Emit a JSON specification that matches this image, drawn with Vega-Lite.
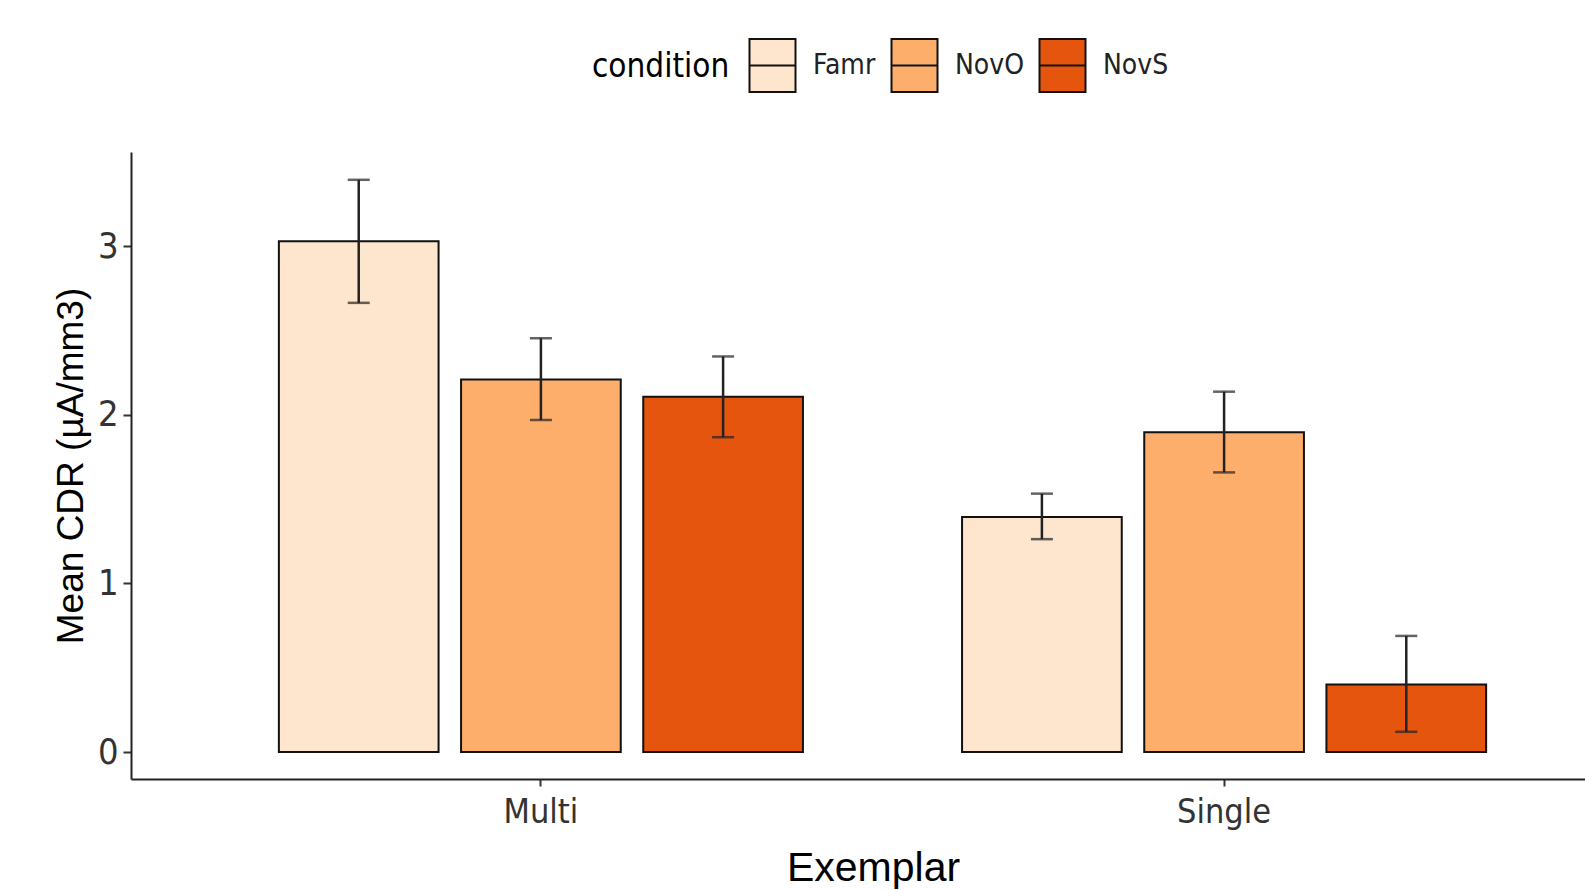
{
  "$schema": "https://vega.github.io/schema/vega-lite/v6.json",
  "autosize": {"type": "none"},
  "width": 1454,
  "height": 627,
  "padding": {"left": 131, "top": 152, "right": 0, "bottom": 111},
  "background": "white",
  "config": {"view": {"stroke": null}},
  "data": {
    "values": [
      {"Exemplar": "Multi", "condition": "Famr", "mean": 3.03, "lo": 2.665, "hi": 3.395},
      {"Exemplar": "Multi", "condition": "NovO", "mean": 2.21, "lo": 1.97, "hi": 2.455},
      {"Exemplar": "Multi", "condition": "NovS", "mean": 2.108, "lo": 1.868, "hi": 2.347},
      {"Exemplar": "Single", "condition": "Famr", "mean": 1.395, "lo": 1.263, "hi": 1.533},
      {"Exemplar": "Single", "condition": "NovO", "mean": 1.898, "lo": 1.659, "hi": 2.138},
      {"Exemplar": "Single", "condition": "NovS", "mean": 0.401, "lo": 0.12, "hi": 0.689}
    ]
  },
  "encoding": {
    "x": {
      "field": "Exemplar", "type": "nominal",
      "scale": {"range": [0, 1503], "paddingInner": 0.2, "paddingOuter": 0.2},
      "axis": {
        "labelAngle": 0, "labelFont": "DejaVu Sans Condensed, Liberation Sans", "labelFontSize": 34, "labelColor": "#333333",
        "labelPadding": 9, "tickSize": 7, "tickColor": "#333333", "tickWidth": 2,
        "domainColor": "#222222", "domainWidth": 2,
        "title": "Exemplar", "titleFont": "Liberation Sans", "titleFontSize": 41, "titleFontWeight": "normal",
        "titleColor": "#000000", "titleX": 742, "titleY": 101, "titleBaseline": "alphabetic", "titleAlign": "center"
      }
    },
    "xOffset": {"field": "condition", "type": "nominal", "scale": {"paddingInner": 0.1235, "paddingOuter": 0.0617}}
  },
  "layer": [
    {
      "mark": {"type": "bar", "stroke": "#111111", "strokeWidth": 2},
      "encoding": {
        "y": {
          "field": "mean", "type": "quantitative", "stack": null,
          "scale": {"domain": [-0.16, 3.56], "nice": false, "zero": false},
          "axis": {
            "values": [0, 1, 2, 3], "format": "d", "grid": false,
            "labelFont": "DejaVu Sans Condensed, Liberation Sans", "labelFontSize": 36, "labelColor": "#333333",
            "labelPadding": 5, "tickSize": 8, "tickColor": "#333333", "tickWidth": 2,
            "domainColor": "#222222", "domainWidth": 2,
            "title": "Mean CDR (µA/mm3)", "titleFont": "Liberation Sans", "titleFontSize": 37, "titleFontWeight": "normal",
            "titleColor": "#000000", "titleX": -49, "titleBaseline": "alphabetic"
          }
        },
        "color": {
          "field": "condition", "type": "nominal",
          "scale": {"domain": ["Famr", "NovO", "NovS"], "range": ["#FEE6CE", "#FDAE6B", "#E6550D"]},
          "legend": {
            "orient": "none", "legendX": 461, "legendY": -114, "direction": "horizontal",
            "title": "condition", "titleOrient": "left", "titleFont": "DejaVu Sans Condensed, Liberation Sans", "titleFontSize": 33,
            "titleFontWeight": "normal", "titleColor": "#000000", "titleBaseline": "middle", "titlePadding": 15,
            "labelFont": "DejaVu Sans Condensed, Liberation Sans", "labelFontSize": 28, "labelColor": "#222222", "labelOffset": 13,
            "symbolType": "M-0.868,-1H0.868V1H-0.868ZM-0.868,0H0.868", "symbolSize": 2809,
            "symbolStrokeColor": "#111111", "symbolStrokeWidth": 2, "symbolOpacity": 1,
            "columnPadding": 11, "padding": 0
          }
        }
      }
    },
    {
      "mark": {"type": "rule", "color": "#222222", "strokeWidth": 2.5},
      "encoding": {
        "y": {"field": "lo", "type": "quantitative"},
        "y2": {"field": "hi"}
      }
    },
    {
      "mark": {"type": "tick", "orient": "horizontal", "color": "#222222", "size": 22, "thickness": 2.5},
      "encoding": {"y": {"field": "lo", "type": "quantitative"}}
    },
    {
      "mark": {"type": "tick", "orient": "horizontal", "color": "#222222", "size": 22, "thickness": 2.5},
      "encoding": {"y": {"field": "hi", "type": "quantitative"}}
    }
  ]
}
